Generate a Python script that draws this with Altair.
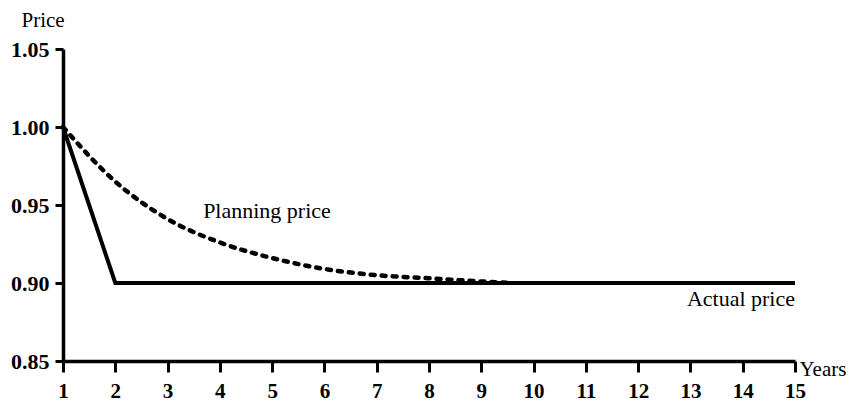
import altair as alt
import pandas as pd

years_actual = [1, 2, 15]
price_actual = [1.00, 0.90, 0.90]

years_plan = [1, 2, 3, 4, 5, 6, 7, 8, 9, 9.6]
price_plan = [1.00, 0.965, 0.941, 0.926, 0.916, 0.909, 0.905, 0.903, 0.901, 0.900]

x_ticks = list(range(1, 16))
y_ticks = [0.85, 0.90, 0.95, 1.00, 1.05]

label_text = ["Planning price", "Actual price"]
label_x = [3.68, 15]
label_y = [0.946, 0.8895]
label_align = ["left", "right"]

FONT = "Liberation Serif"

actual_df = pd.DataFrame({"year": years_actual, "price": price_actual})
plan_df = pd.DataFrame({"year": years_plan, "price": price_plan})
lab_df = pd.DataFrame({"year": label_x, "price": label_y, "text": label_text, "align": label_align})

xs = alt.Scale(domain=[1, 15], nice=False, zero=False)
ys = alt.Scale(domain=[0.85, 1.05], nice=False, zero=False)

x_axis = alt.Axis(values=x_ticks, format="d", grid=False, domainColor="black", domainWidth=3.5,
                  tickColor="black", tickWidth=3, tickSize=11, labelPadding=8,
                  labelFont=FONT, labelFontSize=21, labelFontWeight="bold", labelColor="black",
                  title="Years", titleFont=FONT, titleFontSize=21, titleFontWeight="normal",
                  titleColor="black", titleAngle=0, titleAlign="left", titleBaseline="middle",
                  titleX=736, titleY=8, labelFlush=False)
y_axis = alt.Axis(values=y_ticks, format=".2f", grid=False, domainColor="black", domainWidth=3.5,
                  tickColor="black", tickWidth=3, tickSize=8, labelPadding=6,
                  labelFont=FONT, labelFontSize=22, labelFontWeight="bold", labelColor="black",
                  title="Price", titleFont=FONT, titleFontSize=21, titleFontWeight="normal",
                  titleColor="black", titleAngle=0, titleAlign="left", titleBaseline="middle",
                  titleX=-42, titleY=-29)

actual = alt.Chart(actual_df).mark_line(color="black", strokeWidth=4).encode(
    x=alt.X("year:Q", scale=xs, axis=x_axis),
    y=alt.Y("price:Q", scale=ys, axis=y_axis),
)

plan = alt.Chart(plan_df).mark_line(color="black", strokeWidth=4.5, strokeDash=[4, 7],
                                    strokeCap="round", interpolate="monotone").encode(
    x=alt.X("year:Q", scale=xs),
    y=alt.Y("price:Q", scale=ys),
)

labels_left = alt.Chart(lab_df[lab_df["align"] == "left"]).mark_text(
    font=FONT, fontSize=22, color="black", align="left", baseline="middle").encode(
    x=alt.X("year:Q", scale=xs), y=alt.Y("price:Q", scale=ys), text="text:N")
labels_right = alt.Chart(lab_df[lab_df["align"] == "right"]).mark_text(
    font=FONT, fontSize=22, color="black", align="right", baseline="middle").encode(
    x=alt.X("year:Q", scale=xs), y=alt.Y("price:Q", scale=ys), text="text:N")

chart = alt.layer(actual, plan, labels_left, labels_right).properties(
    width=732, height=312,
    autosize=alt.AutoSizeParams(type="none"),
    padding={"left": 63, "top": 49, "right": 60, "bottom": 43},
    background="white",
).configure_view(stroke=None)

chart.save("out.html", embed_options={"renderer": "svg", "actions": False})
